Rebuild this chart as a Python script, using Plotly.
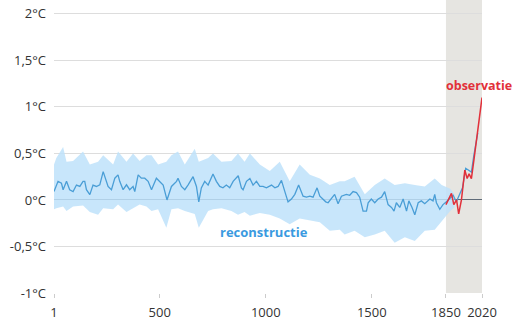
import plotly.graph_objects as go

# Reconstruction (central estimate)
recon_years = [1, 20, 36, 44, 60, 75, 91, 107, 123, 138, 146, 154, 170, 185, 201, 217, 233, 248, 256, 272,
               288, 303, 311, 327, 343, 358, 374, 382, 398, 413, 429, 445, 461, 484, 500, 516, 534, 545, 555, 579,
               586, 602, 618, 633, 657, 673, 684, 696, 712, 728, 751, 767, 783, 798, 814, 830, 846, 870, 885, 893,
               909, 925, 940, 956, 972, 987, 1003, 1027, 1043, 1058, 1074, 1090, 1105, 1121, 1137, 1155, 1176, 1192, 1208, 1223,
               1242, 1255, 1271, 1283, 1294, 1310, 1325, 1341, 1357, 1380, 1396, 1412, 1428, 1443, 1459, 1475, 1483, 1498, 1514, 1530,
               1546, 1561, 1577, 1593, 1605, 1616, 1632, 1648, 1664, 1675, 1690, 1703, 1719, 1734, 1750, 1774, 1789, 1797, 1805, 1821,
               1836, 1852, 1868, 1884, 1899, 1915, 1928, 1943, 1959, 1970, 1981, 1994, 2000]
recon_temp = [0.09, 0.2, 0.18, 0.11, 0.2, 0.11, 0.09, 0.16, 0.145, 0.2, 0.2, 0.11, 0.057, 0.16, 0.145, 0.163, 0.305, 0.2, 0.145, 0.11,
              0.234, 0.27, 0.2, 0.11, 0.163, 0.11, 0.145, 0.09, 0.27, 0.234, 0.234, 0.2, 0.11, 0.234, 0.2, 0.16, 0.0, 0.08, 0.145, 0.2,
              0.234, 0.145, 0.11, 0.16, 0.25, 0.145, -0.02, 0.13, 0.2, 0.16, 0.28, 0.2, 0.145, 0.13, 0.16, 0.13, 0.2, 0.26, 0.13, 0.11,
              0.2, 0.23, 0.16, 0.2, 0.145, 0.145, 0.13, 0.16, 0.13, 0.145, 0.21, 0.09, -0.02, 0.01, 0.06, 0.16, 0.04, 0.03, 0.04, 0.03,
              0.13, 0.04, 0.01, -0.02, -0.03, 0.02, 0.06, -0.04, 0.04, 0.06, 0.05, 0.09, 0.08, 0.03, -0.12, -0.12, -0.03, 0.01, -0.03, 0.01,
              0.03, 0.09, -0.05, -0.08, -0.12, -0.03, -0.08, 0.01, -0.12, -0.01, -0.08, -0.16, -0.03, -0.01, -0.04, 0.01, -0.01, 0.06, -0.03, -0.1,
              -0.05, -0.02, 0.02, 0.05, -0.02, 0.06, 0.13, 0.34, 0.32, 0.3, 0.47, 0.68, 0.72]

# Uncertainty band
band_years = [1, 12, 44, 60, 91, 138, 170, 209, 233, 280, 303, 343, 374, 405, 437, 461, 492, 531, 555, 586,
              618, 665, 684, 728, 751, 791, 838, 869, 900, 925, 972, 1019, 1066, 1113, 1160, 1208, 1255, 1302, 1349, 1372,
              1419, 1467, 1514, 1561, 1608, 1656, 1703, 1750, 1797, 1830, 1870, 1890]
band_upper = [0.38, 0.45, 0.57, 0.41, 0.42, 0.52, 0.38, 0.41, 0.48, 0.38, 0.52, 0.41, 0.5, 0.42, 0.48, 0.48, 0.38, 0.41, 0.48, 0.52,
              0.38, 0.55, 0.41, 0.45, 0.5, 0.41, 0.42, 0.5, 0.41, 0.5, 0.38, 0.31, 0.41, 0.2, 0.38, 0.27, 0.23, 0.16, 0.2, 0.2,
              0.25, 0.06, 0.16, 0.23, 0.16, 0.18, 0.16, 0.145, 0.23, 0.16, 0.12, 0.06]
band_lower = [-0.1, -0.09, -0.07, -0.12, -0.07, -0.06, -0.13, -0.16, -0.09, -0.1, -0.05, -0.13, -0.09, -0.05, -0.07, -0.12, -0.1, -0.3, -0.1, -0.09,
              -0.12, -0.15, -0.3, -0.12, -0.1, -0.09, -0.12, -0.16, -0.13, -0.17, -0.14, -0.16, -0.2, -0.26, -0.2, -0.22, -0.24, -0.33, -0.32, -0.37,
              -0.33, -0.4, -0.37, -0.33, -0.46, -0.4, -0.44, -0.33, -0.32, -0.23, -0.12, -0.08]

# Observations
obs_years = [1850, 1860, 1876, 1887, 1900, 1910, 1923, 1939, 1950, 1959, 1970, 1983, 1994, 2005, 2010, 2020]
obs_temp = [-0.05, 0.0, 0.07, -0.05, 0.0, -0.15, 0.0, 0.32, 0.23, 0.28, 0.23, 0.45, 0.66, 0.87, 0.9, 1.1]

x_tick_vals = [1, 500, 1000, 1500, 1850, 2020]
y_tick_vals = [-1, -0.5, 0, 0.5, 1, 1.5, 2]
y_tick_text = ["-1°C", "-0,5°C", "0°C", "0,5°C", "1°C", "1,5°C", "2°C"]

fig = go.Figure()
fig.add_trace(go.Scatter(x=band_years, y=band_upper, mode="lines", line=dict(width=0),
                         hoverinfo="skip", showlegend=False))
fig.add_trace(go.Scatter(x=band_years, y=band_lower, mode="lines", line=dict(width=0),
                         fill="tonexty", fillcolor="rgba(190,226,250,0.85)", hoverinfo="skip", showlegend=False))
fig.add_trace(go.Scatter(x=recon_years, y=recon_temp, mode="lines",
                         line=dict(color="#4a9ed6", width=1.3), showlegend=False))
fig.add_trace(go.Scatter(x=obs_years, y=obs_temp, mode="lines",
                         line=dict(color="#e2303a", width=1.5), showlegend=False))

fig.add_shape(type="rect", xref="x", yref="paper", x0=1850, x1=2020, y0=0, y1=1,
              fillcolor="#e6e5e1", line=dict(width=0), layer="below")

fig.add_annotation(x=1840, y=1.23, text="<b>observatie</b>", showarrow=False, xanchor="left",
                   font=dict(color="#e2303a", size=12.5, family="Open Sans"))
fig.add_annotation(x=991, y=-0.34, text="<b>reconstructie</b>", showarrow=False, xanchor="center",
                   font=dict(color="#3a9ae0", size=13, family="Open Sans"))

fig.update_layout(
    width=513, height=321,
    margin=dict(l=54, r=31, t=0, b=25),
    paper_bgcolor="white", plot_bgcolor="white",
    font=dict(family="Open Sans", size=13, color="#333333"),
    xaxis=dict(range=[1, 2020], tickvals=x_tick_vals, ticktext=[str(v) for v in x_tick_vals],
               showgrid=False, zeroline=False, ticks="outside", ticklen=4, tickcolor="#cccccc",
               showline=False, fixedrange=True, ticklabelstandoff=3),
    yaxis=dict(range=[-1, 2.149], tickvals=y_tick_vals, ticktext=y_tick_text,
               showgrid=True, gridcolor="#dddddd", gridwidth=1,
               zeroline=True, zerolinecolor="#5f6b78", zerolinewidth=1,
               ticks="", ticklabelstandoff=7, fixedrange=True),
)

fig.write_html("out.html", config={"displayModeBar": False},
               post_script="document.body.style.margin='0';document.body.style.overflow='hidden';")
